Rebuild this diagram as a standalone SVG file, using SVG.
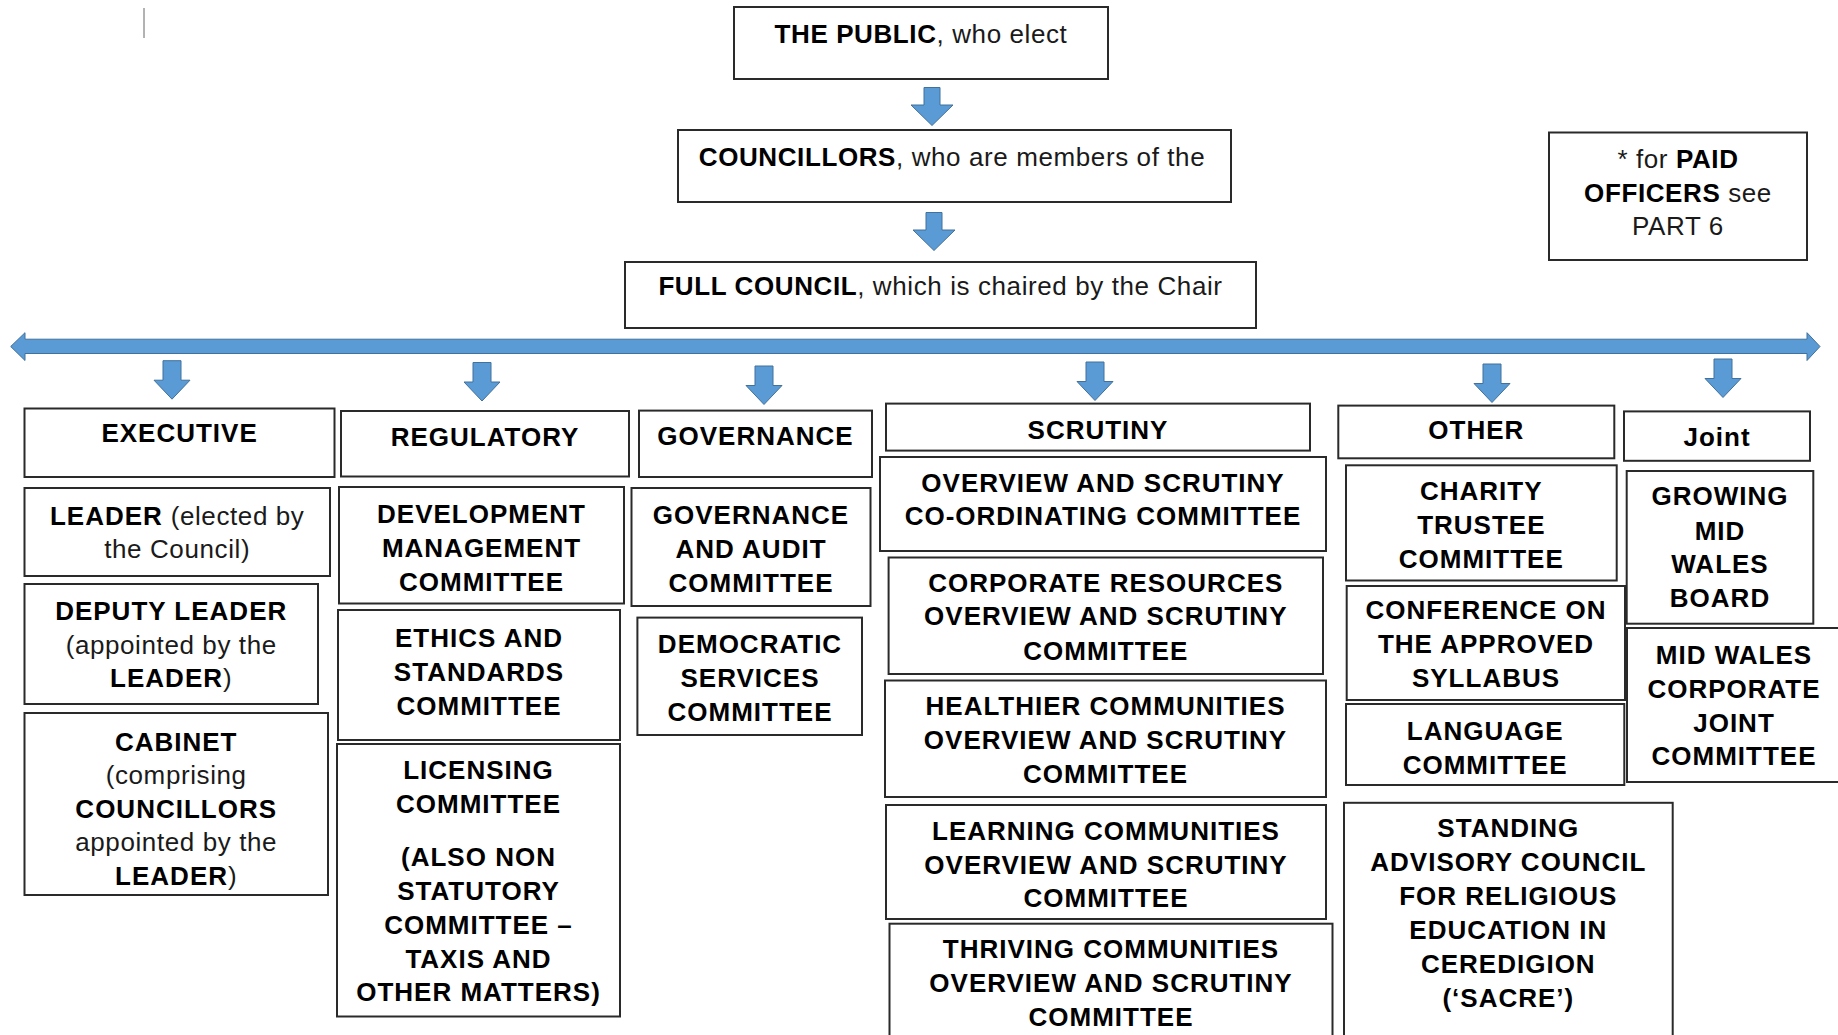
<svg xmlns="http://www.w3.org/2000/svg" width="1838" height="1035" viewBox="0 0 1838 1035">
<style>
.box{fill:#fff;stroke:#2a2a2a;stroke-width:2}
.t{font-family:"Liberation Sans",Arial,sans-serif;font-size:26px;text-anchor:middle;fill:#1a1a1a;letter-spacing:0.6px}
.b{font-weight:bold;fill:#000}
.lb{font-weight:bold;fill:#000;letter-spacing:1px}
.r{font-weight:normal;fill:#222;letter-spacing:0.6px}
.arrow{fill:#5B9BD5;stroke:#41719C;stroke-width:1}
</style>
<defs>
<path id="dn" d="M-9,0 H9 V19.5 H18 L0,38.5 L-18,19.5 H-9 Z"/>
<path id="dnTop" d="M-8,0 H8 V17.5 H21 L0,38 L-21,17.5 H-8 Z"/>
</defs>
<rect width="1838" height="1035" fill="#fff"/>
<line x1="144" y1="8" x2="144" y2="38" stroke="#666" stroke-width="1"/>

<g id="connectors">
<use href="#dnTop" class="arrow" x="932" y="87.5"/>
<use href="#dnTop" class="arrow" x="934" y="212.5"/>
<path class="arrow" d="M10.7,346.5 L25,332.7 V339.2 H1807 V332.7 L1820,346.5 L1807,360.5 V353.5 H25 V360.5 Z"/>
<use href="#dn" class="arrow" x="172" y="360.7"/>
<use href="#dn" class="arrow" x="482" y="362.5"/>
<use href="#dn" class="arrow" x="764" y="366"/>
<use href="#dn" class="arrow" x="1095" y="362"/>
<use href="#dn" class="arrow" x="1492" y="364"/>
<use href="#dn" class="arrow" x="1723" y="359"/>
</g>

<g id="public">
<rect class="box" x="734" y="7" width="374" height="72"/>
<text class="t" x="921" y="43"><tspan class="b">THE PUBLIC</tspan>, who elect</text>
</g>
<g id="councillors">
<rect class="box" x="678" y="130" width="553" height="72"/>
<text class="t" x="952" y="166"><tspan class="b">COUNCILLORS</tspan>, who are members of the</text>
</g>
<g id="full-council">
<rect class="box" x="625" y="262" width="631" height="66"/>
<text class="t" x="940.5" y="295"><tspan class="b">FULL COUNCIL</tspan>, which is chaired by the Chair</text>
</g>
<g id="paid-officers">
<rect class="box" x="1549" y="132.5" width="258" height="127.5"/>
<text class="t" x="1678" y="168">* for <tspan class="b">PAID</tspan></text>
<text class="t" x="1678" y="202"><tspan class="b">OFFICERS</tspan> see</text>
<text class="t" x="1678" y="235">PART 6</text>
</g>

<g id="executive">
<rect class="box" x="24.5" y="408.5" width="310" height="68.5"/>
<text class="t lb" x="179.6" y="442">EXECUTIVE</text>
</g>
<g id="regulatory">
<rect class="box" x="341" y="411" width="288" height="65.5"/>
<text class="t lb" x="485" y="445.5">REGULATORY</text>
</g>
<g id="governance">
<rect class="box" x="639" y="410.6" width="233" height="66.4"/>
<text class="t lb" x="755.5" y="444.7">GOVERNANCE</text>
</g>
<g id="scrutiny">
<rect class="box" x="886" y="403.6" width="424" height="47"/>
<text class="t lb" x="1098" y="438.6">SCRUTINY</text>
</g>
<g id="other">
<rect class="box" x="1338.3" y="405.6" width="276" height="52.7"/>
<text class="t lb" x="1476.3" y="439.4">OTHER</text>
</g>
<g id="joint">
<rect class="box" x="1624" y="411.4" width="186" height="49.4"/>
<text class="t lb" x="1717" y="445.5">Joint</text>
</g>

<g id="leader">
<rect class="box" x="24.5" y="488" width="305.5" height="88"/>
<text class="t" x="177.2" y="524.5"><tspan class="lb">LEADER</tspan> (elected by</text>
<text class="t" x="177.2" y="557.5">the Council)</text>
</g>
<g id="deputy-leader">
<rect class="box" x="24.5" y="584" width="293.5" height="120"/>
<text class="t lb" x="171.2" y="619.5">DEPUTY LEADER</text>
<text class="t" x="171.2" y="653.5">(appointed by the</text>
<text class="t" x="171.2" y="687"><tspan class="lb">LEADER</tspan>)</text>
</g>
<g id="cabinet">
<rect class="box" x="24.5" y="713" width="303.5" height="182"/>
<text class="t lb" x="176.2" y="750.5">CABINET</text>
<text class="t" x="176.2" y="784">(comprising</text>
<text class="t lb" x="176.2" y="817.5">COUNCILLORS</text>
<text class="t" x="176.2" y="851">appointed by the</text>
<text class="t" x="176.2" y="884.5"><tspan class="lb">LEADER</tspan>)</text>
</g>

<g id="development-management">
<rect class="box" x="339" y="487" width="285" height="116.5"/>
<text class="t lb" x="481.5" y="522.5">DEVELOPMENT</text>
<text class="t lb" x="481.5" y="556.5">MANAGEMENT</text>
<text class="t lb" x="481.5" y="590.5">COMMITTEE</text>
</g>
<g id="ethics-standards">
<rect class="box" x="338" y="610" width="282" height="130"/>
<text class="t lb" x="479" y="647">ETHICS AND</text>
<text class="t lb" x="479" y="681">STANDARDS</text>
<text class="t lb" x="479" y="714.5">COMMITTEE</text>
</g>
<g id="licensing">
<rect class="box" x="337" y="744" width="283" height="272.5"/>
<text class="t lb" x="478.5" y="779">LICENSING</text>
<text class="t lb" x="478.5" y="812.5">COMMITTEE</text>
<text class="t lb" x="478.5" y="866">(ALSO NON</text>
<text class="t lb" x="478.5" y="900">STATUTORY</text>
<text class="t lb" x="478.5" y="933.5">COMMITTEE –</text>
<text class="t lb" x="478.5" y="967.5">TAXIS AND</text>
<text class="t lb" x="478.5" y="1001">OTHER MATTERS)</text>
</g>

<g id="governance-audit">
<rect class="box" x="631.5" y="488" width="239" height="118"/>
<text class="t lb" x="751" y="523.7">GOVERNANCE</text>
<text class="t lb" x="751" y="557.9">AND AUDIT</text>
<text class="t lb" x="751" y="591.6">COMMITTEE</text>
</g>
<g id="democratic-services">
<rect class="box" x="637.4" y="617.6" width="224.6" height="117.4"/>
<text class="t lb" x="750" y="653.4">DEMOCRATIC</text>
<text class="t lb" x="750" y="687">SERVICES</text>
<text class="t lb" x="750" y="721">COMMITTEE</text>
</g>

<g id="os-coordinating">
<rect class="box" x="880" y="457" width="446" height="94"/>
<text class="t lb" x="1103" y="491.6">OVERVIEW AND SCRUTINY</text>
<text class="t lb" x="1103" y="525">CO-ORDINATING COMMITTEE</text>
</g>
<g id="corporate-resources">
<rect class="box" x="888.6" y="557.5" width="434.4" height="116.5"/>
<text class="t lb" x="1105.8" y="591.6">CORPORATE RESOURCES</text>
<text class="t lb" x="1105.8" y="625.4">OVERVIEW AND SCRUTINY</text>
<text class="t lb" x="1105.8" y="659.5">COMMITTEE</text>
</g>
<g id="healthier-communities">
<rect class="box" x="885" y="680.5" width="441" height="116.5"/>
<text class="t lb" x="1105.5" y="715">HEALTHIER COMMUNITIES</text>
<text class="t lb" x="1105.5" y="748.8">OVERVIEW AND SCRUTINY</text>
<text class="t lb" x="1105.5" y="783">COMMITTEE</text>
</g>
<g id="learning-communities">
<rect class="box" x="886" y="805" width="440" height="114"/>
<text class="t lb" x="1106" y="839.8">LEARNING COMMUNITIES</text>
<text class="t lb" x="1106" y="873.5">OVERVIEW AND SCRUTINY</text>
<text class="t lb" x="1106" y="907.3">COMMITTEE</text>
</g>
<g id="thriving-communities">
<rect class="box" x="889.5" y="923.7" width="443" height="125"/>
<text class="t lb" x="1111" y="958">THRIVING COMMUNITIES</text>
<text class="t lb" x="1111" y="991.6">OVERVIEW AND SCRUTINY</text>
<text class="t lb" x="1111" y="1025.8">COMMITTEE</text>
</g>

<g id="charity-trustee">
<rect class="box" x="1346" y="465.3" width="270.7" height="115.2"/>
<text class="t lb" x="1481.3" y="500.3">CHARITY</text>
<text class="t lb" x="1481.3" y="534">TRUSTEE</text>
<text class="t lb" x="1481.3" y="567.8">COMMITTEE</text>
</g>
<g id="conference">
<rect class="box" x="1346.7" y="586" width="278.3" height="114"/>
<text class="t lb" x="1486" y="619">CONFERENCE ON</text>
<text class="t lb" x="1486" y="653.4">THE APPROVED</text>
<text class="t lb" x="1486" y="687">SYLLABUS</text>
</g>
<g id="language">
<rect class="box" x="1346" y="704" width="278.3" height="81"/>
<text class="t lb" x="1485.2" y="739.8">LANGUAGE</text>
<text class="t lb" x="1485.2" y="773.5">COMMITTEE</text>
</g>
<g id="sacre">
<rect class="box" x="1344" y="802.8" width="328.7" height="245"/>
<text class="t lb" x="1508.3" y="837">STANDING</text>
<text class="t lb" x="1508.3" y="871">ADVISORY COUNCIL</text>
<text class="t lb" x="1508.3" y="905">FOR RELIGIOUS</text>
<text class="t lb" x="1508.3" y="939">EDUCATION IN</text>
<text class="t lb" x="1508.3" y="973">CEREDIGION</text>
<text class="t lb" x="1508.3" y="1007">(‘SACRE’)</text>
</g>

<g id="growing-mid-wales">
<rect class="box" x="1626.7" y="471" width="186.6" height="152.7"/>
<text class="t lb" x="1720" y="505">GROWING</text>
<text class="t lb" x="1720" y="539.5">MID</text>
<text class="t lb" x="1720" y="573">WALES</text>
<text class="t lb" x="1720" y="607">BOARD</text>
</g>
<g id="mid-wales-cjc">
<rect class="box" x="1627" y="628" width="215" height="154"/>
<text class="t lb" x="1734" y="663.7">MID WALES</text>
<text class="t lb" x="1734" y="697.8">CORPORATE</text>
<text class="t lb" x="1734" y="731.6">JOINT</text>
<text class="t lb" x="1734" y="765.3">COMMITTEE</text>
</g>
</svg>
